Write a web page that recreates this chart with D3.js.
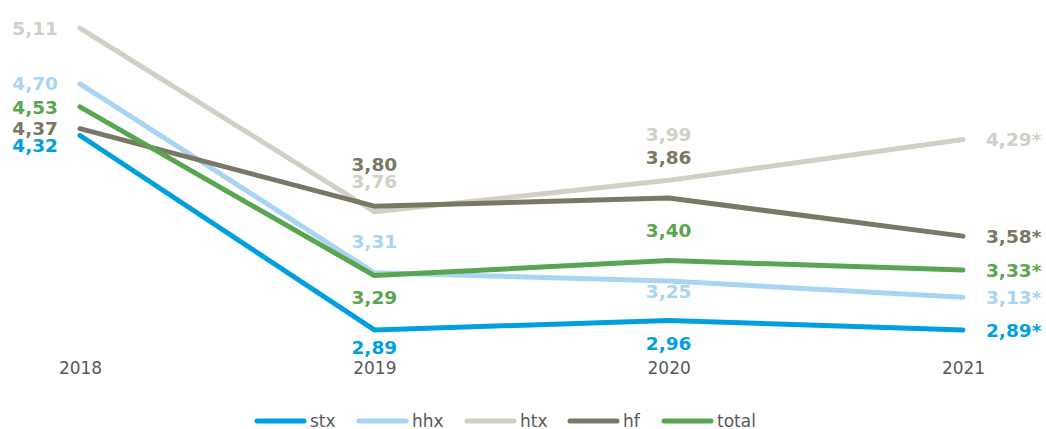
<!DOCTYPE html>
<html>
<head>
<meta charset="utf-8">
<script src="https://cdn.jsdelivr.net/npm/d3@7"></script>
<style>
  body { margin: 0; background: #fff; }
  svg { display: block; }
</style>
</head>
<body>
<svg id="chart" width="1046" height="429"></svg>
<script>
const years = ['2018', '2019', '2020', '2021'];
const seriesNames = ['stx', 'hhx', 'htx', 'hf', 'total'];
const stx = [4.32, 2.89, 2.96, 2.89];
const hhx = [4.70, 3.31, 3.25, 3.13];
const htx = [5.11, 3.76, 3.99, 4.29];
const hf = [4.37, 3.80, 3.86, 3.58];
const total = [4.53, 3.29, 3.40, 3.33];
const lastSuffix = '*';

const colors = {
  stx: '#009fe0',
  hhx: '#a9d4f4',
  htx: '#d0d0c5',
  hf: '#7a7864',
  total: '#5aa550',
};

// vertical label nudges per series and year (px)
const labelDy = {
  stx: [10, 17, 23, 0],
  hhx: [0, -32, 10, 0],
  htx: [0, -30, -46, 0],
  hf: [0, -42, -41, 0],
  total: [0, 22, -30, 0],
};

const series = [
  { name: 'stx', values: stx },
  { name: 'hhx', values: hhx },
  { name: 'htx', values: htx },
  { name: 'hf', values: hf },
  { name: 'total', values: total },
];

const svg = d3.select('#chart');
const font = 'Verdana, "DejaVu Sans", sans-serif';

const x = d3.scalePoint().domain(years).range([80, 963]);
const y = d3.scaleLinear().domain([2.5, 5.25]).range([383, 9]);

const fmt = (v) => d3.format('.2f')(v).replace('.', ',');

const line = d3
  .line()
  .x((d, i) => x(years[i]))
  .y((d) => y(d));

series.forEach((s) => {
  svg
    .append('path')
    .datum(s.values)
    .attr('d', line)
    .attr('fill', 'none')
    .attr('stroke', colors[s.name])
    .attr('stroke-width', 5)
    .attr('stroke-linejoin', 'round')
    .attr('stroke-linecap', 'round');
});

// value labels
series.forEach((s) => {
  s.values.forEach((v, i) => {
    let xPos = x(years[i]);
    let anchor = 'middle';
    let text = fmt(v);
    if (i === 0) {
      xPos = 58;
      anchor = 'end';
    } else if (i === years.length - 1) {
      xPos = 986;
      anchor = 'start';
      text += lastSuffix;
    }
    svg
      .append('text')
      .attr('x', xPos)
      .attr('y', y(v) + labelDy[s.name][i])
      .attr('dy', '0.36em')
      .attr('text-anchor', anchor)
      .attr('font-family', font)
      .attr('font-size', 18.5)
      .attr('font-weight', 'bold')
      .attr('fill', colors[s.name])
      .text(text);
  });
});

// x axis labels
svg
  .append('g')
  .attr('transform', 'translate(0,368)')
  .call(d3.axisBottom(x).tickSize(0).tickPadding(0))
  .call((g) => g.select('.domain').remove())
  .call((g) =>
    g
      .selectAll('text')
      .attr('dy', '0.36em')
      .attr('font-family', font)
      .attr('font-size', 17)
      .attr('fill', '#595959')
  );

// legend
const legendStarts = [257, 359, 467, 570, 664];
const legend = svg.append('g');
seriesNames.forEach((name, i) => {
  const lx = legendStarts[i];
  legend
    .append('line')
    .attr('x1', lx)
    .attr('x2', lx + 47)
    .attr('y1', 421)
    .attr('y2', 421)
    .attr('stroke', colors[name])
    .attr('stroke-width', 5)
    .attr('stroke-linecap', 'round');
  legend
    .append('text')
    .attr('x', lx + 53)
    .attr('y', 421)
    .attr('dy', '0.36em')
    .attr('font-family', font)
    .attr('font-size', 17)
    .attr('fill', '#595959')
    .text(name);
});
</script>
</body>
</html>
